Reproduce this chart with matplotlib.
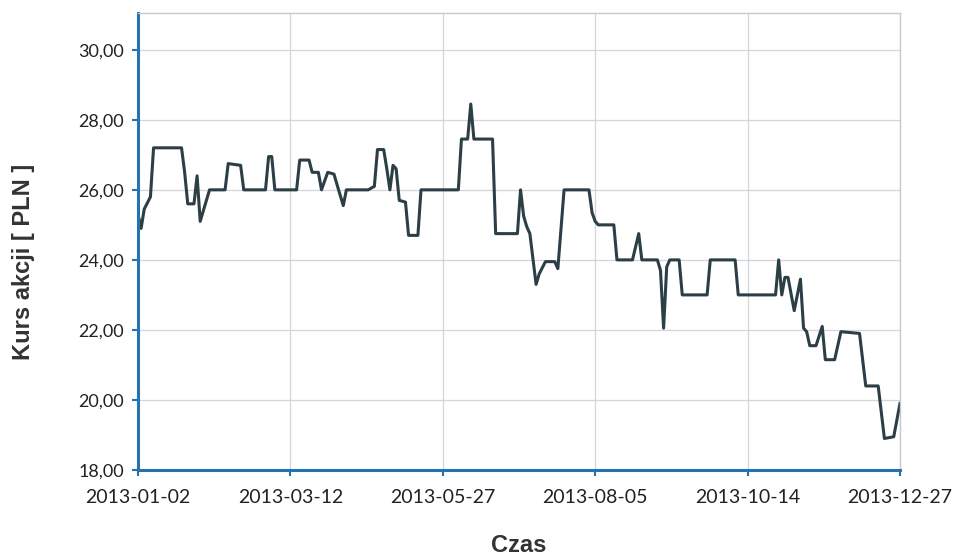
import matplotlib
matplotlib.use("Agg")
import matplotlib.pyplot as plt
from matplotlib.ticker import FuncFormatter

# sesja (numer dnia notowan od 2013-01-02) i kurs zamkniecia w punktach zalamania
sesja = [0, 1, 2, 4, 5, 14, 15, 16, 18, 19, 20, 23, 28, 29, 33, 34,
         41, 42, 43, 44, 51, 52, 55, 56, 58, 59, 61, 63, 66, 67, 74, 76,
         77, 79, 80, 81, 82, 83, 84, 86, 87, 90, 91, 103, 104, 106, 107, 108,
         114, 115, 122, 123, 124, 125, 126, 128, 129, 131, 134, 135, 137, 145,
         146, 147, 148, 153, 154, 159, 161, 162, 167, 168, 169, 170, 171, 174,
         175, 183, 184, 192, 193, 205, 206, 207, 208, 209, 211, 213, 214, 215,
         216, 218, 220, 221, 224, 226, 232, 234, 238, 240, 243, 245]
kurs = [25.3, 24.9, 25.45, 25.8, 27.2, 27.2, 26.5, 25.6, 25.6, 26.4, 25.1, 26.0, 26.0, 26.75, 26.7, 26.0,
        26.0, 26.95, 26.95, 26.0, 26.0, 26.85, 26.85, 26.5, 26.5, 26.0, 26.5, 26.45, 25.55, 26.0, 26.0, 26.1,
        27.15, 27.15, 26.6, 26.0, 26.7, 26.6, 25.7, 25.65, 24.7, 24.7, 26.0, 26.0, 27.45, 27.45, 28.45, 27.45,
        27.45, 24.75, 24.75, 26.0, 25.25, 24.95, 24.75, 23.3, 23.6, 23.95, 23.95, 23.75, 26.0, 26.0,
        25.35, 25.1, 25.0, 25.0, 24.0, 24.0, 24.75, 24.0, 24.0, 23.7, 22.05, 23.8, 24.0, 24.0,
        23.0, 23.0, 24.0, 24.0, 23.0, 23.0, 24.0, 23.0, 23.5, 23.5, 22.55, 23.45, 22.05, 21.95,
        21.55, 21.55, 22.1, 21.15, 21.15, 21.95, 21.9, 20.4, 20.4, 18.9, 18.95, 19.9]

tick_sesje = [0, 49, 98, 147, 196, 245]
tick_daty = ["2013-01-02", "2013-03-12", "2013-05-27", "2013-08-05", "2013-10-14", "2013-12-27"]

plt.rcParams['font.family'] = ['Lato', 'DejaVu Sans']

fig = plt.figure(figsize=(9.57, 5.6), dpi=100)
ax = fig.add_axes([0.1442, 0.1607, 0.7962, 0.8161])

ax.plot(sesja, kurs, color="#2c3e46", linewidth=2.2)

ax.set_xlim(0, 245)
ax.set_ylim(18, 31.05)
ax.set_yticks([18, 20, 22, 24, 26, 28, 30])
ax.yaxis.set_major_formatter(FuncFormatter(lambda v, p: f"{v:.2f}".replace(".", ",")))
ax.set_xticks(tick_sesje)
ax.set_xticklabels(tick_daty)

ax.grid(True, color="#d4d4dc", linewidth=0.9)
ax.set_axisbelow(True)

for s in ["left", "bottom"]:
    ax.spines[s].set_color("#2472b0")
    ax.spines[s].set_linewidth(2.2)
for s in ["top", "right"]:
    ax.spines[s].set_color("#c8c8d0")
    ax.spines[s].set_linewidth(1.0)

ax.tick_params(axis="both", colors="#2472b0", length=4, width=1.5, direction="out",
               labelcolor="#222222")
ax.tick_params(axis="y", labelsize=13, pad=6)
ax.tick_params(axis="x", labelsize=14, pad=10)

ax.set_ylabel("Kurs akcji [ PLN ]", fontsize=17, fontweight="bold", color="#333333",
              family=["Liberation Sans", "DejaVu Sans"])
ax.yaxis.set_label_coords(-0.135, 0.455)
ax.set_xlabel("Czas", fontsize=17, fontweight="bold", color="#333333",
              family=["Liberation Sans", "DejaVu Sans"], labelpad=20)

fig.savefig("out.png", dpi=100)
plt.close(fig)
